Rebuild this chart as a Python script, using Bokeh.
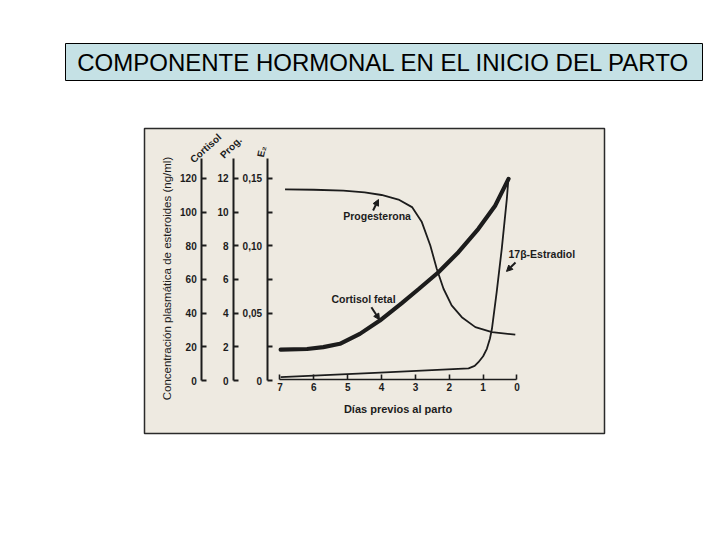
import math
from bokeh.plotting import figure
from bokeh.layouts import column
from bokeh.models import (Range1d, LinearAxis, FixedTicker, CustomJSTickFormatter,
                          Label, Arrow, NormalHead)
from bokeh.embed import file_html
from bokeh.resources import INLINE

# ---------------- data ----------------
title_text = "COMPONENTE HORMONAL EN EL INICIO DEL PARTO"
y_title = "Concentración plasmática de esteroides (ng/ml)"
x_title = "Días previos al parto"
cort_name = "Cortisol"
prog_name = "Prog."
estr_name = "E₂"
prog_label = "Progesterona"
cort_label = "Cortisol fetal"
estr_label = "17β-Estradiol"

day_ticks = [7, 6, 5, 4, 3, 2, 1, 0]
cort_ticks = [0, 20, 40, 60, 80, 100, 120]
prog_ticks = [0, 2, 4, 6, 8, 10, 12]
estr_ticks = [0, 0.05, 0.10, 0.15]
estr_minor = [0.025, 0.075, 0.125]

# Progesterona (ng/ml, "Prog." axis)
prog_days = [6.85, 6.0, 5.13, 4.5, 4.0, 3.5, 3.1, 2.81, 2.56, 2.37, 2.17, 1.93, 1.63, 1.23, 0.74, 0.05]
prog_vals = [11.35, 11.33, 11.28, 11.18, 11.02, 10.75, 10.3, 9.41, 8.02, 6.64, 5.45, 4.46, 3.76, 3.17, 2.87, 2.72]

# Cortisol fetal (ng/ml, "Cortisol" axis)
cort_days = [6.98, 6.2, 5.72, 5.23, 4.64, 4.05, 3.41, 2.91, 2.32, 1.73, 1.14, 0.64, 0.25]
cort_vals = [18.3, 18.7, 19.8, 21.8, 27.7, 35.6, 45.8, 54.2, 64.3, 76.2, 90.1, 104.0, 119.8]

# 17beta-Estradiol (ng/ml, "E2" axis)
estr_days = [6.98, 4.2, 1.43, 1.25, 1.14, 1.0, 0.89, 0.8, 0.74, 0.6, 0.45, 0.3, 0.25]
estr_vals = [0.0025, 0.0057, 0.0090, 0.0108, 0.0136, 0.018, 0.0235, 0.031, 0.0384, 0.0656, 0.0978, 0.1349, 0.1507]

# ---------------- styling ----------------
FONT = "Liberation Sans"
INK = "#1c1c1c"
PAPER = "#eeeae1"
BAND = "#c5e1e5"

# ---------------- title band ----------------
t = figure(width=712, height=100, output_backend="svg", toolbar_location=None,
           x_range=Range1d(0, 1), y_range=Range1d(0, 1),
           x_axis_location=None, y_axis_location=None,
           min_border_left=65, min_border_right=10,
           min_border_top=43, min_border_bottom=20,
           background_fill_color=BAND, border_fill_color="white",
           outline_line_color="black", outline_line_width=1)
t.frame_align = False
for g in t.grid:
    g.visible = False
t.add_layout(Label(x=0.5, y=0.5, text=title_text, text_align="center",
                   text_baseline="middle", text_font=FONT, text_font_size="24px",
                   text_color="black"))

# ---------------- chart ----------------
p = figure(width=712, height=432, output_backend="svg", toolbar_location=None,
           x_range=Range1d(11.0, -2.584), y_range=Range1d(-0.03935, 0.18712),
           x_axis_location=None, y_axis_location=None,
           min_border_left=144, min_border_right=108,
           min_border_top=28, min_border_bottom=99,
           background_fill_color=PAPER, border_fill_color="white",
           outline_line_color="#2a2a2a", outline_line_width=1.5)
p.frame_align = False
for g in p.grid:
    g.visible = False

p.extra_y_ranges = {"cort": Range1d(-0.03935 * 800, 0.18712 * 800),
                    "prog": Range1d(-0.03935 * 80, 0.18712 * 80)}


def style_axis(ax):
    ax.axis_line_color = INK
    ax.axis_line_width = 2
    ax.major_tick_in = 5
    ax.major_tick_out = 0
    ax.major_tick_line_color = INK
    ax.major_tick_line_width = 2
    ax.minor_tick_in = 0
    ax.minor_tick_out = 0
    ax.major_label_text_font = FONT
    ax.major_label_text_font_size = "10px"
    ax.major_label_text_font_style = "bold"
    ax.major_label_text_color = INK
    ax.major_label_standoff = 5


cort_axis = LinearAxis(y_range_name="cort", fixed_location=9.31, bounds=(0, 132),
                       ticker=FixedTicker(ticks=cort_ticks))
style_axis(cort_axis)
p.add_layout(cort_axis, "left")

prog_axis = LinearAxis(y_range_name="prog", fixed_location=8.37, bounds=(0, 13.2),
                       ticker=FixedTicker(ticks=prog_ticks))
style_axis(prog_axis)
p.add_layout(prog_axis, "left")

estr_axis = LinearAxis(fixed_location=7.38, bounds=(0, 0.165),
                       ticker=FixedTicker(ticks=estr_ticks, minor_ticks=estr_minor),
                       formatter=CustomJSTickFormatter(
                           code="return tick == 0 ? '0' : tick.toFixed(2).replace('.', ',')"))
style_axis(estr_axis)
estr_axis.minor_tick_in = 5
estr_axis.minor_tick_line_width = 2
estr_axis.minor_tick_line_color = INK
p.add_layout(estr_axis, "left")

x_axis = LinearAxis(fixed_location=0.001, bounds=(0, 7),
                    ticker=FixedTicker(ticks=day_ticks),
                    axis_label=x_title)
style_axis(x_axis)
x_axis.axis_line_width = 1.6
x_axis.major_tick_line_width = 1.6
x_axis.major_label_standoff = 4
x_axis.axis_label_standoff = 8
x_axis.axis_label_text_font = FONT
x_axis.axis_label_text_font_size = "11px"
x_axis.axis_label_text_font_style = "bold"
x_axis.axis_label_text_color = INK
p.add_layout(x_axis, "below")

# ---------------- curves ----------------
p.line(prog_days, prog_vals, y_range_name="prog", line_color=INK, line_width=1.8)
p.line(cort_days, cort_vals, y_range_name="cort", line_color=INK, line_width=4.2,
       line_cap="round")
p.line(estr_days, estr_vals, line_color=INK, line_width=1.8)

# ---------------- annotations ----------------
def add_label(text, x, y, size="10.5px", style="bold", angle=0.0, align="left",
              baseline="middle"):
    p.add_layout(Label(x=x, y=y, text=text, angle=angle, text_align=align,
                       text_baseline=baseline, text_font=FONT, text_font_size=size,
                       text_font_style=style, text_color=INK))


add_label(prog_label, 5.13, 0.1225)
add_label(cort_label, 5.48, 0.0607)
add_label(estr_label, 0.25, 0.0943)

# rotated names at the top of the three scales
add_label(cort_name, 9.50, 0.160, size="10px", angle=math.radians(42), baseline="bottom")
add_label(prog_name, 8.60, 0.1635, size="10px", angle=math.radians(45), baseline="bottom")
add_label(estr_name, 7.42, 0.165, size="10px", angle=math.radians(78), baseline="bottom")

add_label(y_title, 10.35, 0.0757, size="11.5px", style="normal",
          angle=math.pi / 2, align="center")


def add_arrow(x0, y0, x1, y1):
    p.add_layout(Arrow(end=NormalHead(size=6, fill_color=INK, line_color=INK, line_width=1),
                       x_start=x0, y_start=y0, x_end=x1, y_end=y1,
                       line_color=INK, line_width=2))


add_arrow(4.25, 0.1262, 4.09, 0.1344)
add_arrow(4.30, 0.0544, 4.06, 0.0451)
add_arrow(0.044, 0.0876, 0.31, 0.081)

layout = column(t, p, spacing=0)
open("out.html", "w").write(file_html(layout, INLINE))
